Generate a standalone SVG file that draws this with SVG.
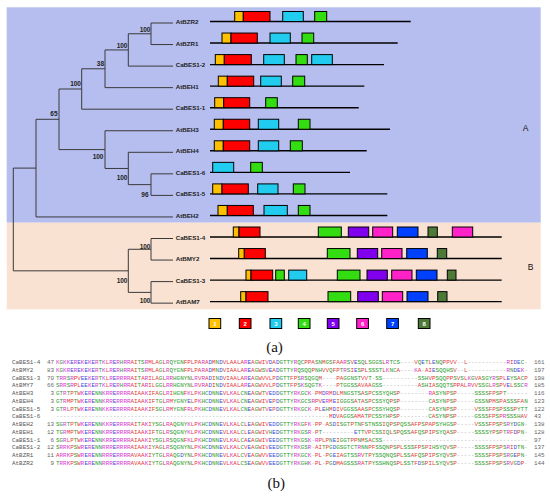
<svg xmlns="http://www.w3.org/2000/svg" width="550" height="496" viewBox="0 0 550 496">
<style>
.lbl{font-family:"Liberation Sans",Arial,sans-serif;font-size:6.2px;font-weight:bold;fill:#222}
.bs{font-family:"Liberation Sans",Arial,sans-serif;font-size:6.5px;font-weight:bold;fill:#222;text-anchor:end}
.gl{stroke:#000;stroke-width:1.4;fill:none}
.tr{stroke:#3a3a3a;stroke-width:1;fill:none}
.bx{stroke:#000;stroke-width:1}
.y{fill:#FFC000}.rd{fill:#FF0000}.c{fill:#22CCEE}.g{fill:#33DD11}.p{fill:#8000EE}.mg{fill:#FF22C8}.bl{fill:#0040FF}.dg{fill:#4E7A38}
.lg{font-family:"Liberation Sans",Arial,sans-serif;font-size:6px;font-weight:bold;fill:#fff;text-anchor:middle}
.clade{font-family:"Liberation Sans",Arial,sans-serif;font-size:8.5px;fill:#111}
.cap{font-family:"Liberation Serif","Times New Roman",serif;font-size:15px;fill:#111;text-anchor:middle}
.nm{font-family:"Liberation Mono",monospace;font-size:5.92px;fill:#555}
.no{font-family:"Liberation Mono",monospace;font-size:5.92px;fill:#666}
.ne{text-anchor:end}
.seq{font-family:"Liberation Mono",monospace;font-size:5.92px;fill:#2e9e2e}
.seq .r{fill:#e33a3a}.seq .b{fill:#3a4ee0}.seq .m{fill:#d23ad2}.seq .k{fill:#aaa}
</style>
<rect x="6.7" y="7.3" width="534" height="215.4" fill="#B6BEF0"/>
<rect x="6.7" y="222.7" width="534" height="86.6" fill="#FAE2D3"/>
<g id="connectors">
<path class="tr" d="M151 23H173M151 44.55H173M128.3 66.1H173M105 87.65H173M81.7 109.2H173M105 130.75H173M128.3 152.3H173M151 173.85H173M151 195.4H173M36 216.95H173M151 238.5H173M151 260.05H173M151 281.6H173M151 303.15H173"/>
<path class="tr" d="M151 23V44.55M128.3 33.78V66.1M105 49.94V87.65M81.7 68.79V109.2M59 89V149.6M105 130.75V168.46M128.3 152.3V184.63M151 173.85V195.4M36 119.3V216.95M13.3 168.1V270.83M151 238.5V260.05M151 281.6V303.15M128.3 249.28V292.38"/>
<path class="tr" d="M128.3 33.78H151M105 49.94H128.3M81.7 68.79H105M59 89H81.7M59 149.6H105M105 168.46H128.3M128.3 184.63H151M36 119.3H59M13.3 168.1H36M128.3 249.28H151M128.3 292.38H151M13.3 270.83H128.3"/>
</g>
<g id="bootstrap">
<text class="bs" x="150.5" y="31.5">100</text>
<text class="bs" x="127.5" y="47.5">100</text>
<text class="bs" x="104" y="65.5">38</text>
<text class="bs" x="81" y="85.5">100</text>
<text class="bs" x="57.5" y="115.8">65</text>
<text class="bs" x="103.5" y="158.5">100</text>
<text class="bs" x="127.5" y="180">100</text>
<text class="bs" x="148.5" y="196.8">96</text>
<text class="bs" x="150.5" y="248.5">100</text>
<text class="bs" x="127.5" y="283">100</text>
<text class="bs" x="150.5" y="302.5">100</text>
</g>
<g id="n-AtBZR2"><text class="lbl" x="175.7" y="24">AtBZR2</text><path class="gl" d="M210 21.5H410.7"/><rect class="bx y" x="234.7" y="11.5" width="8.6" height="10"/><rect class="bx rd" x="243.3" y="11.5" width="26.7" height="10"/><rect class="bx c" x="282.7" y="11.5" width="20.6" height="10"/><rect class="bx g" x="314.7" y="11.5" width="12" height="10"/></g>
<g id="n-AtBZR1"><text class="lbl" x="175.7" y="45.55">AtBZR1</text><path class="gl" d="M210 43.05H397.7"/><rect class="bx y" x="222" y="33.05" width="9" height="10"/><rect class="bx rd" x="231" y="33.05" width="26.3" height="10"/><rect class="bx c" x="270" y="33.05" width="20.3" height="10"/><rect class="bx g" x="302" y="33.05" width="11.7" height="10"/></g>
<g id="n-CaBES1-2"><text class="lbl" x="175.7" y="67.1">CaBES1-2</text><path class="gl" d="M210 64.6H384"/><rect class="bx y" x="215.3" y="54.6" width="9" height="10"/><rect class="bx rd" x="224.3" y="54.6" width="27" height="10"/><rect class="bx c" x="263.7" y="54.6" width="20.6" height="10"/><rect class="bx g" x="296" y="54.6" width="11.3" height="10"/><rect class="bx c" x="311.7" y="54.6" width="20.6" height="10"/></g>
<g id="n-AtBEH1"><text class="lbl" x="175.7" y="88.65">AtBEH1</text><path class="gl" d="M210 86.15H364.3"/><rect class="bx y" x="218.3" y="76.15" width="9" height="10"/><rect class="bx rd" x="227.3" y="76.15" width="26.4" height="10"/><rect class="bx c" x="260.7" y="76.15" width="20.6" height="10"/><rect class="bx g" x="292.7" y="76.15" width="12" height="10"/></g>
<g id="n-CaBES1-1"><text class="lbl" x="175.7" y="110.2">CaBES1-1</text><path class="gl" d="M210 107.7H358.7"/><rect class="bx y" x="214.7" y="97.7" width="9" height="10"/><rect class="bx rd" x="223.7" y="97.7" width="26" height="10"/><rect class="bx g" x="265.7" y="97.7" width="11.6" height="10"/></g>
<g id="n-AtBEH3"><text class="lbl" x="175.7" y="131.75">AtBEH3</text><path class="gl" d="M210 129.25H390"/><rect class="bx y" x="214.3" y="119.25" width="9" height="10"/><rect class="bx rd" x="223.3" y="119.25" width="26.4" height="10"/><rect class="bx c" x="258.3" y="119.25" width="20.4" height="10"/><rect class="bx g" x="298.3" y="119.25" width="11.7" height="10"/></g>
<g id="n-AtBEH4"><text class="lbl" x="175.7" y="153.3">AtBEH4</text><path class="gl" d="M210 150.8H366.7"/><rect class="bx y" x="214.3" y="140.8" width="9" height="10"/><rect class="bx rd" x="223.3" y="140.8" width="26.4" height="10"/><rect class="bx c" x="258.3" y="140.8" width="20.4" height="10"/><rect class="bx g" x="290.3" y="140.8" width="12" height="10"/></g>
<g id="n-CaBES1-6"><text class="lbl" x="175.7" y="174.85">CaBES1-6</text><path class="gl" d="M210 172.35H350"/><rect class="bx c" x="212.7" y="162.35" width="21" height="10"/><rect class="bx g" x="250.7" y="162.35" width="11.6" height="10"/></g>
<g id="n-CaBES1-5"><text class="lbl" x="175.7" y="196.4">CaBES1-5</text><path class="gl" d="M210 193.9H387.3"/><rect class="bx y" x="212.7" y="183.9" width="9.3" height="10"/><rect class="bx rd" x="222" y="183.9" width="26.3" height="10"/><rect class="bx c" x="257.7" y="183.9" width="20.3" height="10"/><rect class="bx g" x="293.3" y="183.9" width="11.7" height="10"/></g>
<g id="n-AtBEH2"><text class="lbl" x="175.7" y="217.95">AtBEH2</text><path class="gl" d="M210 215.45H387.3"/><rect class="bx y" x="218" y="205.45" width="9.3" height="10"/><rect class="bx rd" x="227.3" y="205.45" width="26" height="10"/><rect class="bx c" x="264" y="205.45" width="23.3" height="10"/><rect class="bx g" x="298.3" y="205.45" width="11.7" height="10"/></g>
<g id="n-CaBES1-4"><text class="lbl" x="175.7" y="239.5">CaBES1-4</text><path class="gl" d="M210 237H501.7"/><rect class="bx y" x="233.3" y="227" width="5.7" height="10"/><rect class="bx rd" x="239" y="227" width="21" height="10"/><rect class="bx g" x="318.3" y="227" width="23" height="10"/><rect class="bx p" x="348.3" y="227" width="20.4" height="10"/><rect class="bx mg" x="372.7" y="227" width="20" height="10"/><rect class="bx bl" x="397.3" y="227" width="20.7" height="10"/><rect class="bx dg" x="428" y="227" width="9.3" height="10"/><rect class="bx mg" x="452.3" y="227" width="20.4" height="10"/></g>
<g id="n-AtBMY2"><text class="lbl" x="175.7" y="261.05">AtBMY2</text><path class="gl" d="M210 258.55H501.7"/><rect class="bx y" x="238.7" y="248.55" width="5.6" height="10"/><rect class="bx rd" x="244.3" y="248.55" width="21" height="10"/><rect class="bx g" x="327.3" y="248.55" width="22.7" height="10"/><rect class="bx p" x="357.3" y="248.55" width="20.4" height="10"/><rect class="bx mg" x="381.7" y="248.55" width="20.3" height="10"/><rect class="bx bl" x="406.7" y="248.55" width="20.6" height="10"/><rect class="bx dg" x="437.3" y="248.55" width="9.4" height="10"/></g>
<g id="n-CaBES1-3"><text class="lbl" x="175.7" y="282.6">CaBES1-3</text><path class="gl" d="M210 280.1H501.7"/><rect class="bx y" x="246" y="270.1" width="5" height="10"/><rect class="bx rd" x="251" y="270.1" width="21.7" height="10"/><rect class="bx g" x="275.7" y="270.1" width="8.6" height="10"/><rect class="bx c" x="288.7" y="270.1" width="18" height="10"/><rect class="bx g" x="337.3" y="270.1" width="22.7" height="10"/><rect class="bx p" x="367" y="270.1" width="20.3" height="10"/><rect class="bx mg" x="391.7" y="270.1" width="20.3" height="10"/><rect class="bx bl" x="416.3" y="270.1" width="20.7" height="10"/><rect class="bx dg" x="447.3" y="270.1" width="8.7" height="10"/></g>
<g id="n-AtBAM7"><text class="lbl" x="175.7" y="304.15">AtBAM7</text><path class="gl" d="M210 301.65H501.7"/><rect class="bx y" x="240.7" y="291.65" width="5.3" height="10"/><rect class="bx rd" x="246" y="291.65" width="22" height="10"/><rect class="bx g" x="328" y="291.65" width="22.7" height="10"/><rect class="bx p" x="357.7" y="291.65" width="20.6" height="10"/><rect class="bx mg" x="382.3" y="291.65" width="20.4" height="10"/><rect class="bx bl" x="407" y="291.65" width="21" height="10"/><rect class="bx dg" x="437.7" y="291.65" width="9.3" height="10"/></g>
<text class="clade" x="522.7" y="130.8">A</text>
<text class="clade" x="527.7" y="269.8">B</text>
<g id="legend">
<rect class="bx y" x="209" y="318.5" width="11.7" height="10"/><text class="lg" x="214.85" y="325.6">1</text>
<rect class="bx rd" x="239.3" y="318.5" width="11.7" height="10"/><text class="lg" x="245.15" y="325.6">2</text>
<rect class="bx c" x="270" y="318.5" width="11.7" height="10"/><text class="lg" x="275.85" y="325.6">3</text>
<rect class="bx g" x="298.3" y="318.5" width="11.7" height="10"/><text class="lg" x="304.15" y="325.6">4</text>
<rect class="bx p" x="327.3" y="318.5" width="11.7" height="10"/><text class="lg" x="333.15" y="325.6">5</text>
<rect class="bx mg" x="356.7" y="318.5" width="11.7" height="10"/><text class="lg" x="362.55" y="325.6">6</text>
<rect class="bx bl" x="386.7" y="318.5" width="11.7" height="10"/><text class="lg" x="392.55" y="325.6">7</text>
<rect class="bx dg" x="418.3" y="318.5" width="11.7" height="10"/><text class="lg" x="424.15" y="325.6">8</text>
</g>
<text class="cap" x="274.5" y="351.5">(a)</text>
<g id="alignment">
<text class="nm" x="12" y="364.1">CaBES1-4</text><text class="no ne" x="54" y="364.1">47</text><text class="no" x="534" y="364.1">161</text>
<text class="seq" x="56" y="364.1"><tspan class="m">K</tspan>G<tspan class="m">KK</tspan><tspan class="b">E</tspan><tspan class="m">R</tspan><tspan class="b">E</tspan><tspan class="m">K</tspan><tspan class="b">E</tspan><tspan class="m">K</tspan><tspan class="b">E</tspan><tspan class="m">R</tspan>T<tspan class="m">K</tspan><tspan class="r">L</tspan><tspan class="m">R</tspan><tspan class="b">E</tspan><tspan class="m">R</tspan>H<tspan class="m">RR</tspan><tspan class="r">AI</tspan>TS<tspan class="m">R</tspan><tspan class="r">MLA</tspan>G<tspan class="r">L</tspan><tspan class="m">R</tspan>QYGN<tspan class="r">FPLPA</tspan><tspan class="m">R</tspan><tspan class="r">A</tspan><tspan class="b">D</tspan><tspan class="r">M</tspan>N<tspan class="b">D</tspan><tspan class="r">VLAALA</tspan><tspan class="m">R</tspan><tspan class="b">E</tspan><tspan class="r">A</tspan>G<tspan class="r">WIV</tspan><tspan class="b">D</tspan><tspan class="r">A</tspan><tspan class="b">D</tspan>GTTY<tspan class="m">R</tspan>QC<tspan class="r">PPA</tspan>SN<tspan class="r">M</tspan>GS<tspan class="r">FAA</tspan><tspan class="m">R</tspan>S<tspan class="r">V</tspan><tspan class="b">E</tspan>SQ<tspan class="r">L</tspan>SGGS<tspan class="r">L</tspan><tspan class="m">R</tspan>TCS<tspan class="k">----</tspan><tspan class="r">V</tspan>Q<tspan class="b">E</tspan>T<tspan class="r">L</tspan><tspan class="b">E</tspan>NQ<tspan class="r">PPVV</tspan><tspan class="k">--</tspan><tspan class="r">L</tspan><tspan class="k">-----------</tspan><tspan class="m">R</tspan><tspan class="r">I</tspan><tspan class="b">DE</tspan>C<tspan class="k">-</tspan></text>
<text class="nm" x="12" y="371.85">AtBMY2</text><text class="no ne" x="54" y="371.85">83</text><text class="no" x="534" y="371.85">197</text>
<text class="seq" x="56" y="371.85"><tspan class="m">K</tspan>G<tspan class="m">KR</tspan><tspan class="b">E</tspan><tspan class="m">R</tspan><tspan class="b">E</tspan><tspan class="m">K</tspan><tspan class="b">E</tspan><tspan class="m">K</tspan><tspan class="b">E</tspan><tspan class="m">R</tspan>T<tspan class="m">K</tspan><tspan class="r">L</tspan><tspan class="m">R</tspan><tspan class="b">E</tspan><tspan class="m">R</tspan>H<tspan class="m">RR</tspan><tspan class="r">AI</tspan>TS<tspan class="m">R</tspan><tspan class="r">MLA</tspan>G<tspan class="r">L</tspan><tspan class="m">R</tspan>QYGN<tspan class="r">FPLPA</tspan><tspan class="m">R</tspan><tspan class="r">A</tspan><tspan class="b">D</tspan><tspan class="r">M</tspan>N<tspan class="b">D</tspan><tspan class="r">VIAALA</tspan><tspan class="m">R</tspan><tspan class="b">E</tspan><tspan class="r">A</tspan>G<tspan class="r">W</tspan>S<tspan class="r">V</tspan><tspan class="b">E</tspan><tspan class="r">A</tspan><tspan class="b">D</tspan>GTTY<tspan class="m">R</tspan>QSQQ<tspan class="r">P</tspan>NH<tspan class="r">VV</tspan>Q<tspan class="r">FP</tspan>T<tspan class="m">R</tspan>S<tspan class="r">I</tspan><tspan class="b">E</tspan>S<tspan class="r">PL</tspan>SSST<tspan class="r">L</tspan><tspan class="m">K</tspan>NC<tspan class="r">A</tspan><tspan class="k">----</tspan><tspan class="m">K</tspan><tspan class="r">A</tspan><tspan class="k">-</tspan><tspan class="r">AI</tspan><tspan class="b">E</tspan>SQQHS<tspan class="r">V</tspan><tspan class="k">--</tspan><tspan class="r">L</tspan><tspan class="k">-----------</tspan><tspan class="m">R</tspan>N<tspan class="b">DE</tspan><tspan class="m">K</tspan><tspan class="k">-</tspan></text>
<text class="nm" x="12" y="379.6">CaBES1-3</text><text class="no ne" x="54" y="379.6">70</text><text class="no" x="534" y="379.6">198</text>
<text class="seq" x="56" y="379.6">T<tspan class="m">RR</tspan>S<tspan class="m">R</tspan><tspan class="r">PV</tspan><tspan class="b">EE</tspan><tspan class="m">K</tspan><tspan class="b">E</tspan><tspan class="m">R</tspan>T<tspan class="m">K</tspan><tspan class="r">L</tspan><tspan class="m">R</tspan><tspan class="b">E</tspan><tspan class="m">RRRR</tspan><tspan class="r">AI</tspan>T<tspan class="r">A</tspan><tspan class="m">R</tspan><tspan class="r">ILA</tspan>G<tspan class="r">L</tspan><tspan class="m">RR</tspan>HGNYN<tspan class="r">L</tspan><tspan class="m">R</tspan><tspan class="r">V</tspan><tspan class="m">R</tspan><tspan class="r">A</tspan><tspan class="b">D</tspan><tspan class="r">I</tspan>N<tspan class="b">D</tspan><tspan class="r">VIAALA</tspan><tspan class="m">R</tspan><tspan class="b">E</tspan><tspan class="r">A</tspan>G<tspan class="r">WVVLP</tspan><tspan class="b">D</tspan>GTT<tspan class="r">FP</tspan>S<tspan class="m">R</tspan>SQGQ<tspan class="r">M</tspan><tspan class="k">----</tspan><tspan class="r">PA</tspan>GGNST<tspan class="r">VV</tspan>T<tspan class="k">-</tspan>SS<tspan class="k">----------</tspan>SSH<tspan class="r">VP</tspan>SQQ<tspan class="r">PP</tspan>S<tspan class="r">V</tspan>S<tspan class="r">L</tspan><tspan class="m">K</tspan>G<tspan class="r">VA</tspan>SGY<tspan class="m">R</tspan>S<tspan class="r">PL</tspan><tspan class="b">E</tspan>YS<tspan class="r">A</tspan>C<tspan class="r">P</tspan></text>
<text class="nm" x="12" y="387.35">AtBMY7</text><text class="no ne" x="54" y="387.35">66</text><text class="no" x="534" y="387.35">185</text>
<text class="seq" x="56" y="387.35">S<tspan class="m">RR</tspan>S<tspan class="m">R</tspan><tspan class="r">PL</tspan><tspan class="b">EE</tspan><tspan class="m">K</tspan><tspan class="b">E</tspan><tspan class="m">R</tspan>T<tspan class="m">K</tspan><tspan class="r">L</tspan><tspan class="m">R</tspan><tspan class="b">E</tspan><tspan class="m">R</tspan>H<tspan class="m">RR</tspan><tspan class="r">AI</tspan>T<tspan class="r">A</tspan><tspan class="m">R</tspan><tspan class="r">IL</tspan>GG<tspan class="r">L</tspan><tspan class="m">RR</tspan>HGNYN<tspan class="r">L</tspan><tspan class="m">R</tspan><tspan class="r">V</tspan><tspan class="m">R</tspan><tspan class="r">A</tspan><tspan class="b">D</tspan><tspan class="r">I</tspan>N<tspan class="b">D</tspan><tspan class="r">VIAALA</tspan><tspan class="m">R</tspan><tspan class="b">E</tspan><tspan class="r">A</tspan>G<tspan class="r">WVVLP</tspan><tspan class="b">D</tspan>GTT<tspan class="r">FP</tspan>S<tspan class="m">K</tspan>SQGT<tspan class="m">K</tspan><tspan class="k">----</tspan><tspan class="r">P</tspan>TGGSS<tspan class="r">AVAA</tspan>GSS<tspan class="k">----------</tspan><tspan class="r">A</tspan>SH<tspan class="r">IA</tspan>SQQTS<tspan class="r">PPAL</tspan><tspan class="m">R</tspan><tspan class="r">VV</tspan>SSG<tspan class="r">L</tspan><tspan class="m">R</tspan>S<tspan class="r">PV</tspan><tspan class="b">E</tspan><tspan class="r">L</tspan>SSC<tspan class="m">R</tspan></text>
<text class="nm" x="12" y="395.1">AtBEH3</text><text class="no ne" x="54" y="395.1">3</text><text class="no" x="534" y="395.1">116</text>
<text class="seq" x="56" y="395.1">GT<tspan class="m">R</tspan>T<tspan class="r">P</tspan>T<tspan class="r">W</tspan><tspan class="m">K</tspan><tspan class="b">E</tspan><tspan class="m">R</tspan><tspan class="b">E</tspan>NN<tspan class="m">KRR</tspan><tspan class="b">E</tspan><tspan class="m">RRRR</tspan><tspan class="r">AIAA</tspan><tspan class="m">K</tspan><tspan class="r">IFA</tspan>G<tspan class="r">L</tspan><tspan class="m">R</tspan><tspan class="r">I</tspan>HGN<tspan class="r">F</tspan><tspan class="m">K</tspan><tspan class="r">LP</tspan><tspan class="m">K</tspan>HC<tspan class="b">D</tspan>NN<tspan class="b">E</tspan><tspan class="r">VL</tspan><tspan class="m">K</tspan><tspan class="r">AL</tspan>CN<tspan class="b">E</tspan><tspan class="r">A</tspan>G<tspan class="r">W</tspan>T<tspan class="r">V</tspan><tspan class="b">EDD</tspan>GTTY<tspan class="m">RK</tspan>GC<tspan class="m">K</tspan><tspan class="k">-</tspan><tspan class="r">PM</tspan><tspan class="b">D</tspan><tspan class="m">R</tspan><tspan class="r">M</tspan><tspan class="b">D</tspan><tspan class="r">LM</tspan>NGSTS<tspan class="r">A</tspan>S<tspan class="r">P</tspan>CSSYQHS<tspan class="r">P</tspan><tspan class="k">--------</tspan><tspan class="m">R</tspan><tspan class="r">A</tspan>SYN<tspan class="r">P</tspan>S<tspan class="r">P</tspan><tspan class="k">-----</tspan>SSSS<tspan class="r">FP</tspan>S<tspan class="r">P</tspan>T<tspan class="k">------</tspan></text>
<text class="nm" x="12" y="402.85">AtBEH4</text><text class="no ne" x="54" y="402.85">3</text><text class="no" x="534" y="402.85">123</text>
<text class="seq" x="56" y="402.85">GT<tspan class="m">R</tspan><tspan class="r">MP</tspan>T<tspan class="r">W</tspan><tspan class="m">K</tspan><tspan class="b">E</tspan><tspan class="m">R</tspan><tspan class="b">E</tspan>NN<tspan class="m">KRR</tspan><tspan class="b">E</tspan><tspan class="m">RRRR</tspan><tspan class="r">AIAA</tspan><tspan class="m">K</tspan><tspan class="r">IF</tspan>TG<tspan class="r">L</tspan><tspan class="m">R</tspan><tspan class="r">M</tspan>YGNY<tspan class="b">E</tspan><tspan class="r">LP</tspan><tspan class="m">K</tspan>HC<tspan class="b">D</tspan>NN<tspan class="b">E</tspan><tspan class="r">VL</tspan><tspan class="m">K</tspan><tspan class="r">AL</tspan>CN<tspan class="b">E</tspan><tspan class="r">A</tspan>G<tspan class="r">WIV</tspan><tspan class="b">E</tspan><tspan class="r">P</tspan><tspan class="b">D</tspan>GTTY<tspan class="m">RK</tspan>GCS<tspan class="m">R</tspan><tspan class="r">PV</tspan><tspan class="b">E</tspan><tspan class="m">R</tspan><tspan class="r">M</tspan><tspan class="b">E</tspan><tspan class="r">I</tspan>GGGS<tspan class="r">A</tspan>T<tspan class="r">A</tspan>S<tspan class="r">P</tspan>CSSYQ<tspan class="r">P</tspan>S<tspan class="r">P</tspan><tspan class="k">--------</tspan>C<tspan class="r">A</tspan>SYN<tspan class="r">P</tspan>S<tspan class="r">P</tspan><tspan class="k">-----</tspan>GSSN<tspan class="r">PM</tspan>S<tspan class="r">PA</tspan>SSS<tspan class="r">FA</tspan>N</text>
<text class="nm" x="12" y="410.6">CaBES1-5</text><text class="no ne" x="54" y="410.6">3</text><text class="no" x="534" y="410.6">122</text>
<text class="seq" x="56" y="410.6">GT<tspan class="m">R</tspan><tspan class="r">LP</tspan>T<tspan class="r">W</tspan><tspan class="m">K</tspan><tspan class="b">E</tspan><tspan class="m">R</tspan><tspan class="b">E</tspan>NN<tspan class="m">KKR</tspan><tspan class="b">E</tspan><tspan class="m">RRRR</tspan><tspan class="r">AIAA</tspan><tspan class="m">K</tspan><tspan class="r">IF</tspan>SG<tspan class="r">L</tspan><tspan class="m">R</tspan><tspan class="r">M</tspan>YGN<tspan class="r">F</tspan><tspan class="m">R</tspan><tspan class="r">LP</tspan><tspan class="m">K</tspan>HC<tspan class="b">D</tspan>NN<tspan class="b">E</tspan><tspan class="r">VL</tspan><tspan class="m">K</tspan><tspan class="r">AL</tspan>CN<tspan class="b">E</tspan><tspan class="r">A</tspan>G<tspan class="r">W</tspan>T<tspan class="r">V</tspan><tspan class="b">E</tspan><tspan class="r">P</tspan><tspan class="b">D</tspan>GTTY<tspan class="m">RK</tspan>GC<tspan class="m">K</tspan><tspan class="k">-</tspan><tspan class="r">PL</tspan><tspan class="b">E</tspan>H<tspan class="r">M</tspan><tspan class="b">D</tspan><tspan class="r">IV</tspan>GGSS<tspan class="r">AA</tspan>S<tspan class="r">P</tspan>CSSYHQS<tspan class="r">P</tspan><tspan class="k">--------</tspan>C<tspan class="r">A</tspan>SYN<tspan class="r">P</tspan>S<tspan class="r">P</tspan><tspan class="k">-----</tspan><tspan class="r">V</tspan>SSS<tspan class="r">FP</tspan>S<tspan class="r">P</tspan>SSS<tspan class="r">P</tspan>YTT</text>
<text class="nm" x="12" y="418.35">CaBES1-6</text><text class="no" x="534" y="418.35">43</text>
<text class="seq" x="56" y="418.35"><tspan class="k">-----------------------------------------------------------------------------</tspan><tspan class="r">M</tspan><tspan class="b">D</tspan><tspan class="r">VA</tspan>GGS<tspan class="r">AMA</tspan>T<tspan class="r">P</tspan>CSSYH<tspan class="r">P</tspan>S<tspan class="r">P</tspan><tspan class="k">--------</tspan>C<tspan class="r">A</tspan>SYN<tspan class="r">P</tspan>S<tspan class="r">P</tspan><tspan class="k">-----</tspan>GSSS<tspan class="r">FP</tspan>S<tspan class="r">P</tspan><tspan class="m">R</tspan>SSSH<tspan class="r">AV</tspan></text>
<text class="nm" x="12" y="426.1">AtBEH2</text><text class="no ne" x="54" y="426.1">13</text><text class="no" x="534" y="426.1">138</text>
<text class="seq" x="56" y="426.1">SG<tspan class="m">R</tspan>T<tspan class="r">P</tspan>T<tspan class="r">W</tspan><tspan class="m">K</tspan><tspan class="b">E</tspan><tspan class="m">R</tspan><tspan class="b">E</tspan>NN<tspan class="m">KKR</tspan><tspan class="b">E</tspan><tspan class="m">RRRR</tspan><tspan class="r">AI</tspan>T<tspan class="r">A</tspan><tspan class="m">K</tspan><tspan class="r">I</tspan>YSG<tspan class="r">L</tspan><tspan class="m">R</tspan><tspan class="r">A</tspan>QGNY<tspan class="m">K</tspan><tspan class="r">LP</tspan><tspan class="m">K</tspan>HC<tspan class="b">D</tspan>NN<tspan class="b">E</tspan><tspan class="r">VL</tspan><tspan class="m">K</tspan><tspan class="r">AL</tspan>C<tspan class="r">L</tspan><tspan class="b">E</tspan><tspan class="r">A</tspan>G<tspan class="r">WIV</tspan><tspan class="b">EDD</tspan>GTTY<tspan class="m">RK</tspan>G<tspan class="r">F</tspan><tspan class="m">K</tspan><tspan class="k">-</tspan><tspan class="r">PP</tspan><tspan class="k">-</tspan><tspan class="r">A</tspan>S<tspan class="b">D</tspan><tspan class="r">I</tspan>SGT<tspan class="r">P</tspan>TN<tspan class="r">F</tspan>STNSS<tspan class="r">I</tspan>Q<tspan class="r">P</tspan>S<tspan class="r">P</tspan>QSS<tspan class="r">AFP</tspan>S<tspan class="r">PAP</tspan>SYHGS<tspan class="r">P</tspan><tspan class="k">-----</tspan><tspan class="r">V</tspan>SSS<tspan class="r">FP</tspan>S<tspan class="r">P</tspan>S<tspan class="m">R</tspan>Y<tspan class="b">D</tspan>GN<tspan class="k">-</tspan></text>
<text class="nm" x="12" y="433.85">AtBEH1</text><text class="no ne" x="54" y="433.85">12</text><text class="no" x="534" y="433.85">128</text>
<text class="seq" x="56" y="433.85">TG<tspan class="m">R</tspan><tspan class="r">MP</tspan>T<tspan class="r">W</tspan><tspan class="m">K</tspan><tspan class="b">E</tspan><tspan class="m">R</tspan><tspan class="b">E</tspan>NN<tspan class="m">KRR</tspan><tspan class="b">E</tspan><tspan class="m">RRRR</tspan><tspan class="r">AIAA</tspan><tspan class="m">K</tspan><tspan class="r">IF</tspan>TG<tspan class="r">L</tspan><tspan class="m">R</tspan>SQGNY<tspan class="m">K</tspan><tspan class="r">LP</tspan><tspan class="m">K</tspan>HC<tspan class="b">D</tspan>NN<tspan class="b">E</tspan><tspan class="r">VL</tspan><tspan class="m">K</tspan><tspan class="r">AL</tspan>C<tspan class="r">L</tspan><tspan class="b">E</tspan><tspan class="r">A</tspan>G<tspan class="r">WIV</tspan>H<tspan class="b">ED</tspan>GTTY<tspan class="m">RK</tspan>GS<tspan class="m">R</tspan><tspan class="k">-</tspan><tspan class="r">P</tspan>T<tspan class="k">---------</tspan><tspan class="b">E</tspan>TT<tspan class="r">VP</tspan>CSS<tspan class="r">I</tspan>Q<tspan class="r">L</tspan>S<tspan class="r">P</tspan>QSS<tspan class="r">AF</tspan>QS<tspan class="r">PIP</tspan>SYQ<tspan class="r">A</tspan>S<tspan class="r">P</tspan><tspan class="k">-----</tspan>SSSSY<tspan class="r">P</tspan>S<tspan class="r">P</tspan>T<tspan class="m">R</tspan><tspan class="r">F</tspan><tspan class="b">D</tspan><tspan class="r">P</tspan>N<tspan class="k">-</tspan></text>
<text class="nm" x="12" y="441.6">CaBES1-1</text><text class="no ne" x="54" y="441.6">6</text><text class="no" x="534" y="441.6">97</text>
<text class="seq" x="56" y="441.6">SG<tspan class="m">R</tspan><tspan class="r">LP</tspan>T<tspan class="r">W</tspan><tspan class="m">K</tspan><tspan class="b">E</tspan><tspan class="m">R</tspan><tspan class="b">E</tspan>NN<tspan class="m">KRR</tspan><tspan class="b">E</tspan><tspan class="m">RRRR</tspan><tspan class="r">AIAA</tspan><tspan class="m">K</tspan><tspan class="r">I</tspan>YSG<tspan class="r">L</tspan><tspan class="m">R</tspan>SQGN<tspan class="r">F</tspan><tspan class="m">K</tspan><tspan class="r">LP</tspan><tspan class="m">K</tspan>HC<tspan class="b">D</tspan>NN<tspan class="b">E</tspan><tspan class="r">VL</tspan><tspan class="m">K</tspan><tspan class="r">AL</tspan>C<tspan class="r">A</tspan><tspan class="b">E</tspan><tspan class="r">A</tspan>G<tspan class="r">WIV</tspan><tspan class="b">EED</tspan>GTTY<tspan class="m">RK</tspan>GS<tspan class="m">K</tspan><tspan class="k">-</tspan><tspan class="m">R</tspan><tspan class="r">PLP</tspan>N<tspan class="b">E</tspan><tspan class="r">I</tspan>GGT<tspan class="r">PP</tspan>N<tspan class="r">M</tspan>S<tspan class="r">A</tspan>CSS<tspan class="k">-----------------------------------------</tspan></text>
<text class="nm" x="12" y="449.35">CaBES1-2</text><text class="no ne" x="54" y="449.35">12</text><text class="no" x="534" y="449.35">137</text>
<text class="seq" x="56" y="449.35">S<tspan class="m">RRK</tspan><tspan class="r">P</tspan>S<tspan class="r">W</tspan><tspan class="m">R</tspan><tspan class="b">E</tspan><tspan class="m">R</tspan><tspan class="b">E</tspan>NN<tspan class="m">RRR</tspan><tspan class="b">E</tspan><tspan class="m">RRRR</tspan><tspan class="r">AIAA</tspan><tspan class="m">K</tspan><tspan class="r">I</tspan>Y<tspan class="r">A</tspan>G<tspan class="r">L</tspan><tspan class="m">R</tspan>SQGNYN<tspan class="r">LP</tspan><tspan class="m">K</tspan>HC<tspan class="b">D</tspan>NN<tspan class="b">E</tspan><tspan class="r">VL</tspan><tspan class="m">K</tspan><tspan class="r">AL</tspan>C<tspan class="r">V</tspan><tspan class="b">E</tspan><tspan class="r">A</tspan>G<tspan class="r">WIV</tspan><tspan class="b">EED</tspan>GTTY<tspan class="m">RK</tspan>GS<tspan class="m">R</tspan><tspan class="k">-</tspan><tspan class="r">AI</tspan>T<tspan class="r">P</tspan>G<tspan class="b">D</tspan>GSGTCT<tspan class="m">R</tspan>NN<tspan class="r">PF</tspan>SSQN<tspan class="r">P</tspan>S<tspan class="r">PL</tspan>SSS<tspan class="r">FP</tspan>S<tspan class="r">PI</tspan>HSYQ<tspan class="r">V</tspan>S<tspan class="r">P</tspan><tspan class="k">-----</tspan>SSSS<tspan class="r">FP</tspan>S<tspan class="r">P</tspan>S<tspan class="m">R</tspan><tspan class="r">I</tspan><tspan class="b">D</tspan>TN<tspan class="k">-</tspan></text>
<text class="nm" x="12" y="457.1">AtBZR1</text><text class="no ne" x="54" y="457.1">11</text><text class="no" x="534" y="457.1">145</text>
<text class="seq" x="56" y="457.1"><tspan class="r">A</tspan><tspan class="m">RRK</tspan><tspan class="r">P</tspan>S<tspan class="r">W</tspan><tspan class="m">R</tspan><tspan class="b">E</tspan><tspan class="m">R</tspan><tspan class="b">E</tspan>NN<tspan class="m">RRR</tspan><tspan class="b">E</tspan><tspan class="m">RRRR</tspan><tspan class="r">AVAA</tspan><tspan class="m">K</tspan><tspan class="r">I</tspan>YTG<tspan class="r">L</tspan><tspan class="m">R</tspan><tspan class="r">A</tspan>QG<tspan class="b">D</tspan>YN<tspan class="r">LP</tspan><tspan class="m">K</tspan>HC<tspan class="b">D</tspan>NN<tspan class="b">E</tspan><tspan class="r">VL</tspan><tspan class="m">K</tspan><tspan class="r">AL</tspan>C<tspan class="r">V</tspan><tspan class="b">E</tspan><tspan class="r">A</tspan>G<tspan class="r">WVV</tspan><tspan class="b">EED</tspan>GTTY<tspan class="m">RK</tspan>GC<tspan class="m">K</tspan><tspan class="k">-</tspan><tspan class="r">PL</tspan><tspan class="k">-</tspan><tspan class="r">P</tspan>G<tspan class="b">E</tspan><tspan class="r">IA</tspan>GTSS<tspan class="m">R</tspan><tspan class="r">V</tspan>T<tspan class="r">P</tspan>YSSQNQS<tspan class="r">PL</tspan>SS<tspan class="r">AF</tspan>QS<tspan class="r">PIP</tspan>SYQ<tspan class="r">V</tspan>S<tspan class="r">P</tspan><tspan class="k">-----</tspan>SSSS<tspan class="r">FP</tspan>S<tspan class="r">P</tspan>S<tspan class="m">R</tspan>G<tspan class="b">E</tspan><tspan class="r">P</tspan>N<tspan class="k">-</tspan></text>
<text class="nm" x="12" y="464.85">AtBZR2</text><text class="no ne" x="54" y="464.85">9</text><text class="no" x="534" y="464.85">144</text>
<text class="seq" x="56" y="464.85">T<tspan class="m">RRK</tspan><tspan class="r">P</tspan>S<tspan class="r">W</tspan><tspan class="m">R</tspan><tspan class="b">E</tspan><tspan class="m">R</tspan><tspan class="b">E</tspan>NN<tspan class="m">RRR</tspan><tspan class="b">E</tspan><tspan class="m">RRRR</tspan><tspan class="r">AVAA</tspan><tspan class="m">K</tspan><tspan class="r">I</tspan>YTG<tspan class="r">L</tspan><tspan class="m">R</tspan><tspan class="r">A</tspan>QGNYN<tspan class="r">LP</tspan><tspan class="m">K</tspan>HC<tspan class="b">D</tspan>NN<tspan class="b">E</tspan><tspan class="r">VL</tspan><tspan class="m">K</tspan><tspan class="r">AL</tspan>CS<tspan class="b">E</tspan><tspan class="r">A</tspan>G<tspan class="r">WVV</tspan><tspan class="b">EED</tspan>GTTY<tspan class="m">RK</tspan>GH<tspan class="m">K</tspan><tspan class="k">-</tspan><tspan class="r">PL</tspan><tspan class="k">-</tspan><tspan class="r">P</tspan>G<tspan class="b">D</tspan><tspan class="r">MA</tspan>GSSS<tspan class="m">R</tspan><tspan class="r">A</tspan>T<tspan class="r">P</tspan>YSSHNQS<tspan class="r">PL</tspan>SST<tspan class="r">F</tspan><tspan class="b">D</tspan>S<tspan class="r">PIL</tspan>SYQ<tspan class="r">V</tspan>S<tspan class="r">P</tspan><tspan class="k">-----</tspan>SSSS<tspan class="r">FP</tspan>S<tspan class="r">P</tspan>S<tspan class="m">R</tspan><tspan class="r">V</tspan>G<tspan class="b">D</tspan><tspan class="r">P</tspan><tspan class="k">-</tspan></text>
</g>
<text class="cap" x="276.3" y="488">(b)</text>
</svg>
